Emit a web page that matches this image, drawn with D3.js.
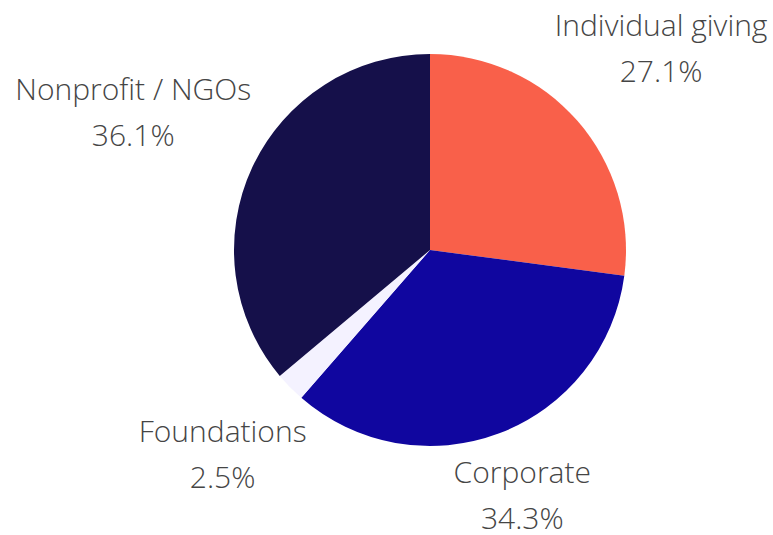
<!DOCTYPE html>
<html>
<head>
<meta charset="utf-8">
<script src="https://cdn.jsdelivr.net/npm/d3@7"></script>
<style>
  body { margin: 0; background: #fff; }
  text { font-family: "Open Sans", sans-serif; font-weight: 300; }
</style>
</head>
<body>
<svg id="chart"></svg>
<script>
const categories = ["Individual giving", "Corporate", "Foundations", "Nonprofit / NGOs"];
const values = [27.1, 34.3, 2.5, 36.1];
const colors = ["#f9604a", "#10069f", "#f4f2ff", "#15104a"];

const width = 773, height = 535;
const cx = 430, cy = 250, radius = 196;
const labelGap = 6;

const svg = d3.select("#chart").attr("width", width).attr("height", height);
const g = svg.append("g").attr("transform", `translate(${cx},${cy})`);

const pie = d3.pie().sort(null).value(d => d.value);
const arc = d3.arc().innerRadius(0).outerRadius(radius);

const data = pie(categories.map((c, i) => ({ name: c, value: values[i], color: colors[i] })));

g.selectAll("path")
  .data(data)
  .enter().append("path")
  .attr("d", arc)
  .attr("fill", d => d.data.color);

// labels: pushed out along the mid angle until the box clears the pie
const labels = g.selectAll("g.label")
  .data(data)
  .enter().append("g")
  .attr("class", "label");

labels.each(function(d) {
  const lg = d3.select(this);
  const t = lg.append("text")
    .attr("text-anchor", "middle")
    .style("fill", "#454545")
    .style("font-size", "30px");
  t.append("tspan").attr("x", 0).attr("y", -7).text(d.data.name);
  t.append("tspan").attr("x", 0).attr("y", 39).text(d.data.value.toFixed(1) + "%");

  const bb = t.node().getBBox();
  const bx = bb.x + bb.width / 2, by = bb.y + bb.height / 2;
  const hw = bb.width / 2, hh = bb.height / 2;
  const mid = (d.startAngle + d.endAngle) / 2;
  const ux = Math.sin(mid), uy = -Math.cos(mid);
  const target = radius + labelGap;
  let dist = 0;
  for (let s = 0; s < 600; s += 0.5) {
    const px = ux * s, py = uy * s;
    const nx = Math.max(Math.abs(px) - hw, 0), ny = Math.max(Math.abs(py) - hh, 0);
    if (Math.hypot(nx, ny) >= target) { dist = s; break; }
  }
  lg.attr("transform", `translate(${ux * dist - bx},${uy * dist - by})`);
});
</script>
</body>
</html>
